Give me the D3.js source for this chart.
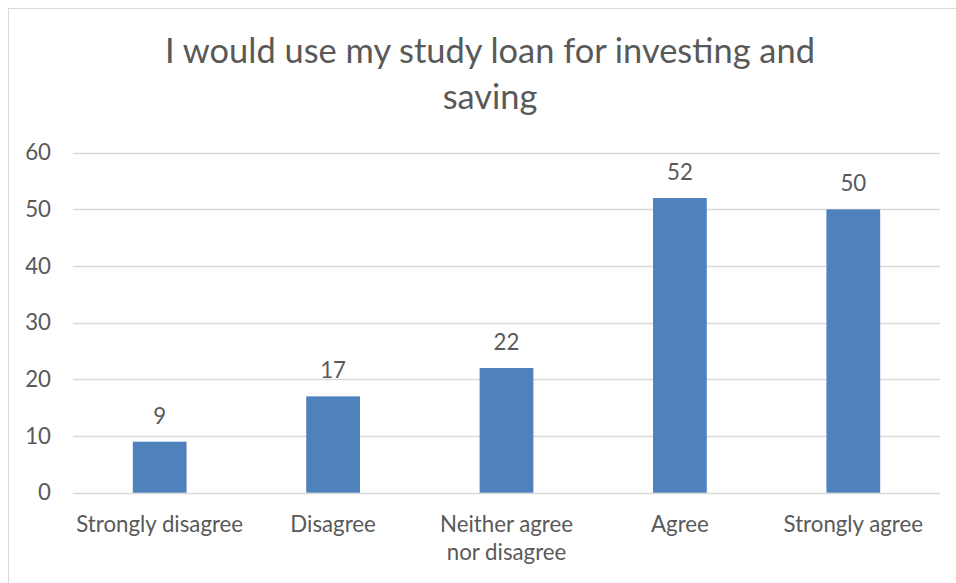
<!DOCTYPE html>
<html>
<head>
<meta charset="utf-8">
<script src="https://cdn.jsdelivr.net/npm/d3@7"></script>
<style>
  html, body { margin: 0; padding: 0; background: #fff; }
  svg { display: block; }
  text { font-family: Lato, "Open Sans", sans-serif; fill: #595959; }
</style>
</head>
<body>
<svg id="chart" width="956" height="583"></svg>
<script>
// Survey responses
const categories = [["Strongly disagree"], ["Disagree"], ["Neither agree", "nor disagree"], ["Agree"], ["Strongly agree"]];
const values = [9, 17, 22, 52, 50];
const yTicks = [0, 10, 20, 30, 40, 50, 60];
const titleLines = ["I would use my study loan for investing and", "saving"];

const svg = d3.select("#chart");
const plot = { left: 73, right: 940, top: 152.7, bottom: 492.7 };

// chart area frame
svg.append("rect")
  .attr("x", 8.5).attr("y", 8.5)
  .attr("width", 1000).attr("height", 700)
  .attr("fill", "#fff").attr("stroke", "#D9D9D9").attr("stroke-width", 1);

// fit a font size so that a string reaches a target width
function fitSize(str, target, base) {
  const t = svg.append("text").attr("font-size", base).text(str);
  const w = t.node().getComputedTextLength();
  t.remove();
  return base * target / w;
}

const titleSize = fitSize(titleLines[0], 650, 30);
const labelSize = fitSize("Strongly disagree", 167, 20);

const x = d3.scaleBand()
  .domain(d3.range(values.length))
  .range([plot.left, plot.right])
  .paddingInner(0.69)
  .paddingOuter(0.345);

const y = d3.scaleLinear().domain([0, 60]).range([plot.bottom, plot.top]);

// title
const title = svg.append("text")
  .attr("text-anchor", "middle")
  .attr("font-size", titleSize)
  .attr("fill", "#595959");
titleLines.forEach((line, i) => {
  title.append("tspan").attr("x", 490).attr("y", 63 + i * 46).text(line);
});

// gridlines
svg.append("g")
  .selectAll("line")
  .data(yTicks)
  .join("line")
  .attr("x1", plot.left).attr("x2", plot.right)
  .attr("y1", d => Math.round(y(d)) + 0.5).attr("y2", d => Math.round(y(d)) + 0.5)
  .attr("stroke", "#D9D9D9").attr("stroke-width", 1.5);

// y axis labels
const yAxis = svg.append("g")
  .attr("transform", `translate(${plot.left},0)`)
  .call(d3.axisLeft(y).tickValues(yTicks).tickSize(0).tickPadding(22));
yAxis.select(".domain").remove();
yAxis.selectAll("text")
  .attr("font-size", labelSize)
  .attr("fill", "#595959")
  .attr("font-family", "Lato, 'Open Sans', sans-serif");

// bars
svg.append("g")
  .selectAll("rect")
  .data(values)
  .join("rect")
  .attr("x", (d, i) => x(i))
  .attr("width", x.bandwidth())
  .attr("y", d => y(d))
  .attr("height", d => y(0) - y(d))
  .attr("fill", "#4F81BD");

// value labels
svg.append("g")
  .selectAll("text")
  .data(values)
  .join("text")
  .attr("text-anchor", "middle")
  .attr("font-size", labelSize)
  .attr("fill", "#404040")
  .attr("x", (d, i) => x(i) + x.bandwidth() / 2)
  .attr("y", d => y(d) - 18)
  .text(d => d);

// category labels
const cat = svg.append("g")
  .selectAll("text")
  .data(categories)
  .join("text")
  .attr("text-anchor", "middle")
  .attr("font-size", labelSize);
cat.each(function (lines, i) {
  const t = d3.select(this);
  lines.forEach((line, j) => {
    t.append("tspan")
      .attr("x", x(i) + x.bandwidth() / 2)
      .attr("y", 531.5 + j * 28)
      .text(line);
  });
});
</script>
</body>
</html>
